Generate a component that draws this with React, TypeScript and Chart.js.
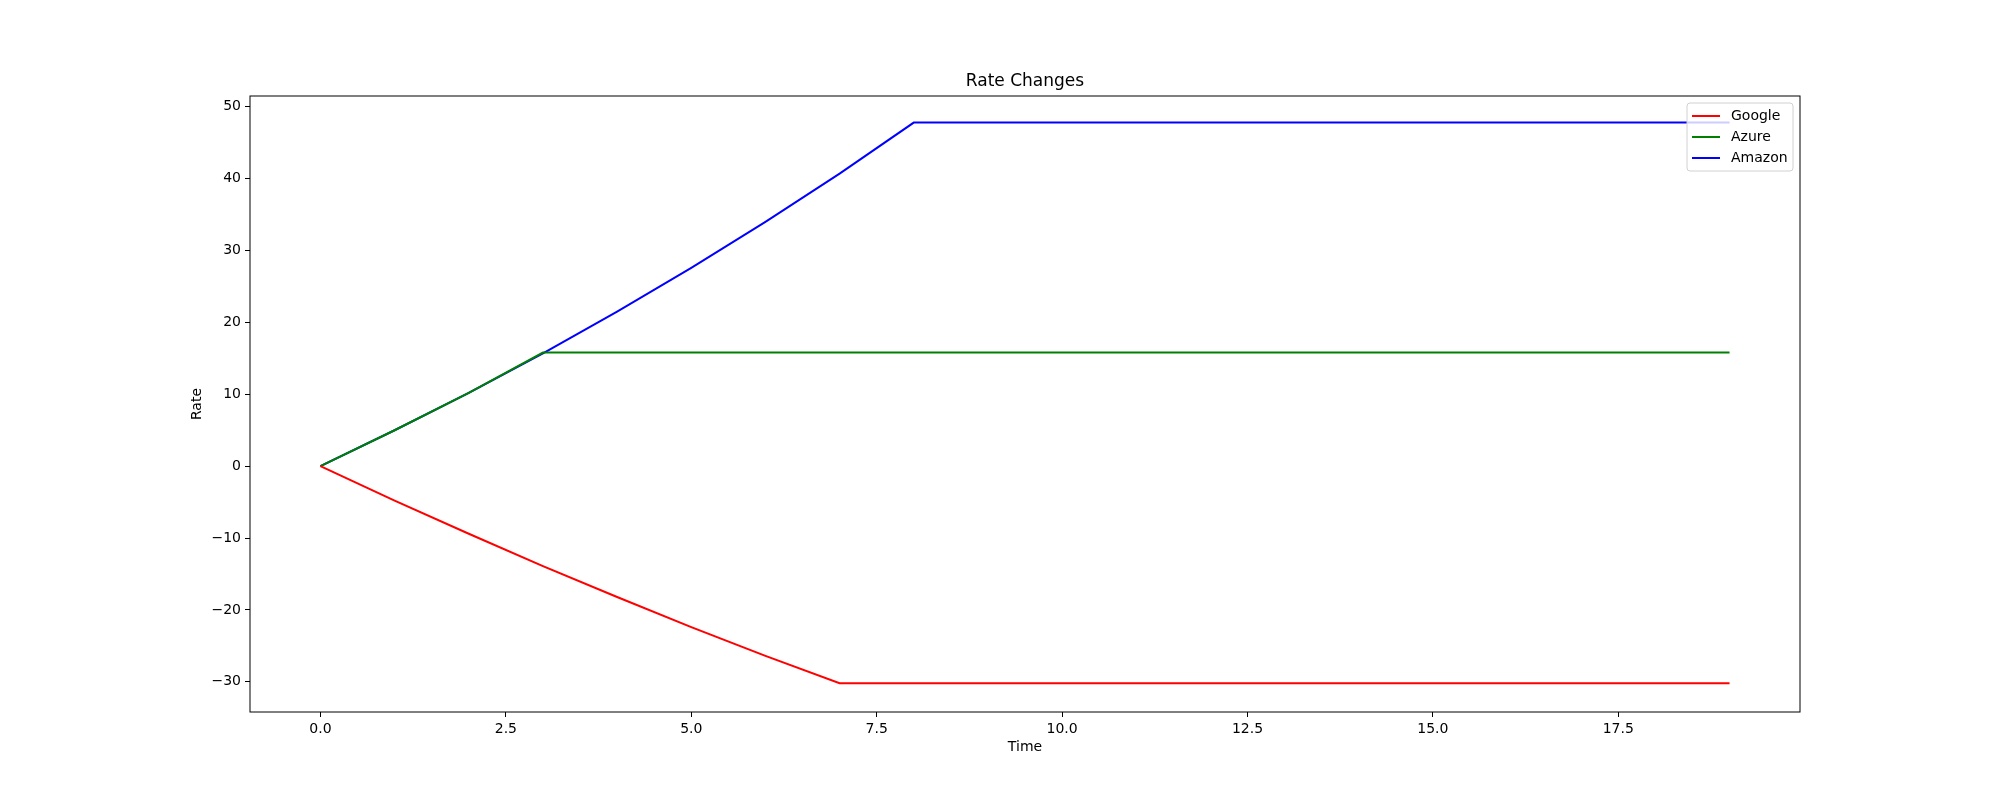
import React, { useEffect, useRef } from "react";
import { Chart, registerables } from "chart.js";
Chart.register(...registerables);

const times = [0, 1, 2, 3, 4, 5, 6, 7, 8, 9, 10, 11, 12, 13, 14, 15, 16, 17, 18, 19];
const google = [0, -4.8, -9.4, -13.9, -18.2, -22.4, -26.4, -30.2, -30.2, -30.2, -30.2, -30.2, -30.2, -30.2, -30.2, -30.2, -30.2, -30.2, -30.2, -30.2];
const azure = [0, 5.0, 10.2, 15.8, 15.8, 15.8, 15.8, 15.8, 15.8, 15.8, 15.8, 15.8, 15.8, 15.8, 15.8, 15.8, 15.8, 15.8, 15.8, 15.8];
const amazon = [0, 5.0, 10.2, 15.7, 21.5, 27.6, 34.0, 40.7, 47.8, 47.8, 47.8, 47.8, 47.8, 47.8, 47.8, 47.8, 47.8, 47.8, 47.8, 47.8];
const xTicks = [0, 2.5, 5, 7.5, 10, 12.5, 15, 17.5];
const yTicks = [-30, -20, -10, 0, 10, 20, 30, 40, 50];
const seriesNames = ["Google", "Azure", "Amazon"];
const seriesColors = ["#ff0000", "#008000", "#0000ff"];

const FONT = "DejaVu Sans";

const frame = {
  id: "frame",
  afterDraw(chart: any) {
    const { ctx, chartArea: a } = chart;
    ctx.save();
    ctx.strokeStyle = "#000";
    ctx.lineWidth = 1;
    ctx.strokeRect(a.left, a.top, a.right - a.left, a.bottom - a.top);
    ctx.fillStyle = "#000";
    ctx.textAlign = "center";
    ctx.font = `17px "${FONT}"`;
    ctx.textBaseline = "bottom";
    ctx.fillText("Rate Changes", (a.left + a.right) / 2, a.top - 6);
    ctx.font = `14px "${FONT}"`;
    ctx.textBaseline = "top";
    ctx.fillText("Time", (a.left + a.right) / 2, a.bottom + 28);
    ctx.save();
    ctx.translate(204, (a.top + a.bottom) / 2);
    ctx.rotate(-Math.PI / 2);
    ctx.textBaseline = "bottom";
    ctx.fillText("Rate", 0, 0);
    ctx.restore();
    // legend
    const w = 106, h = 68;
    const lx = a.right - 7 - w, ly = a.top + 7;
    ctx.fillStyle = "rgba(255,255,255,0.8)";
    ctx.strokeStyle = "#d0d0d0";
    ctx.beginPath();
    ctx.roundRect(lx, ly, w, h, 3);
    ctx.fill();
    ctx.stroke();
    ctx.textAlign = "left";
    ctx.textBaseline = "middle";
    seriesNames.forEach((n, i) => {
      const y = ly + 13 + i * 21;
      ctx.strokeStyle = seriesColors[i];
      ctx.lineWidth = 2;
      ctx.beginPath();
      ctx.moveTo(lx + 5, y);
      ctx.lineTo(lx + 33, y);
      ctx.stroke();
      ctx.fillStyle = "#000";
      ctx.fillText(n, lx + 44, y);
    });
    ctx.restore();
  },
};

export default function App() {
  const ref = useRef<HTMLCanvasElement | null>(null);
  useEffect(() => {
    document.body.style.margin = "0";
    if (!ref.current) return;
    const series = [google, azure, amazon];
    const chart = new Chart(ref.current, {
      type: "line",
      data: {
        datasets: seriesNames.map((n, i) => ({
          label: n,
          data: times.map((t, j) => ({ x: t, y: series[i][j] })),
          borderColor: seriesColors[i],
          borderWidth: 2,
          pointRadius: 0,
          tension: 0,
        })),
      },
      options: {
        animation: false,
        responsive: false,
        events: [],
        layout: { padding: { top: 96, right: 200, left: 0, bottom: 0 } },
        plugins: { legend: { display: false }, title: { display: false }, tooltip: { enabled: false } },
        scales: {
          x: {
            type: "linear",
            min: -0.95,
            max: 19.95,
            afterFit: (s: any) => { s.height = 88; },
            afterBuildTicks: (s: any) => { s.ticks = xTicks.map((v) => ({ value: v })); },
            grid: { drawOnChartArea: false, tickLength: 5, color: "#000" },
            border: { display: false },
            ticks: { color: "#000", font: { family: FONT, size: 14 }, padding: 4, maxRotation: 0, callback: (v: any) => Number(v).toFixed(1) },
          },
          y: {
            type: "linear",
            min: -34.2,
            max: 51.5,
            afterFit: (s: any) => { s.width = 250; },
            afterBuildTicks: (s: any) => { s.ticks = yTicks.map((v) => ({ value: v })); },
            grid: { drawOnChartArea: false, tickLength: 5, color: "#000" },
            border: { display: false },
            ticks: { color: "#000", font: { family: FONT, size: 14 }, padding: 4, callback: (v: any) => (v < 0 ? "\u2212" + Math.abs(v) : String(v)) },
          },
        },
      },
      plugins: [frame],
    });
    return () => chart.destroy();
  }, []);
  return <canvas ref={ref} width={2000} height={800} style={{ width: 2000, height: 800, display: "block" }} />;
}
